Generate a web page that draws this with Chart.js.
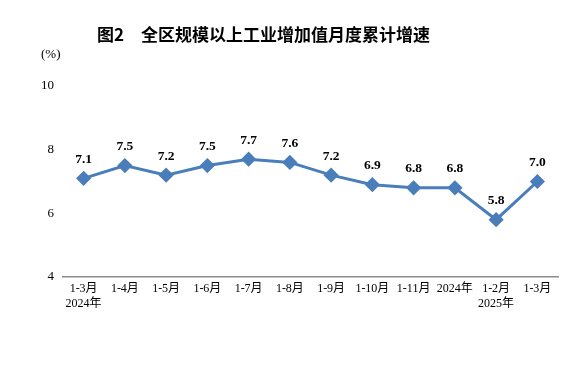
<!DOCTYPE html>
<html>
<head>
<meta charset="utf-8">
<script src="https://cdn.jsdelivr.net/npm/chart.js@4/dist/chart.umd.min.js"></script>
<style>
  html, body { margin: 0; padding: 0; background: #fff; }
  #wrap { width: 576px; height: 366px; }
</style>
</head>
<body>
<div id="wrap"><canvas id="growthChart" width="576" height="366"></canvas></div>
<script>
// Data
const months = [
  ["1-3月", "2024年"], "1-4月", "1-5月", "1-6月", "1-7月", "1-8月",
  "1-9月", "1-10月", "1-11月", "2024年", ["1-2月", "2025年"], "1-3月"
];
const growth = [7.1, 7.5, 7.2, 7.5, 7.7, 7.6, 7.2, 6.9, 6.8, 6.8, 5.8, 7.0];
const yTicks = [4, 6, 8, 10];

const title = "图2　全区规模以上工业增加值月度累计增速";
const unitLabel = "(%)";
const serif = "'Liberation Serif', 'Noto Sans CJK SC', serif";

// draws the title, the unit text and the value labels
const extras = {
  id: "extras",
  afterDatasetsDraw(chart) {
    const ctx = chart.ctx;
    ctx.save();
    ctx.fillStyle = "#000";
    ctx.textBaseline = "middle";

    ctx.font = "bold 17px 'Noto Sans CJK SC', sans-serif";
    ctx.textAlign = "left";
    ctx.fillText(title, 97, 35);

    ctx.font = "13px " + serif;
    ctx.fillText(unitLabel, 41, 55);

    ctx.font = "bold 13.5px " + serif;
    ctx.textAlign = "center";
    chart.getDatasetMeta(0).data.forEach((pt, i) => {
      ctx.fillText(growth[i].toFixed(1), pt.x, pt.y - 19);
    });
    ctx.restore();
  }
};

const ctx = document.getElementById("growthChart").getContext("2d");

new Chart(ctx, {
  type: "line",
  data: {
    labels: months,
    datasets: [
      {
        data: growth,
        borderColor: "#4a7ebb",
        backgroundColor: "#4a7ebb",
        borderWidth: 3,
        pointStyle: "rectRot",
        pointRadius: 5.5,
        pointHoverRadius: 5.5,
        tension: 0,
      },
    ],
  },
  options: {
    responsive: false,
    animation: false,
    layout: { padding: { top: 86, right: 18, left: 0, bottom: 0 } },
    plugins: {
      legend: { display: false },
      title: { display: false },
      tooltip: { enabled: false },
    },
    scales: {
      x: {
        offset: true,
        grid: { display: false, drawTicks: false },
        border: { display: true, color: "#8c8c8c", width: 1.5 },
        ticks: {
          color: "#000",
          font: { family: serif, size: 12 },
          padding: 5,
          maxRotation: 0,
          autoSkip: false,
        },
        afterFit(scale) { scale.height = 89; },
      },
      y: {
        min: 4,
        max: 10,
        grid: { display: false, drawTicks: false },
        border: { display: false },
        afterBuildTicks(scale) { scale.ticks = yTicks.map(v => ({ value: v })); },
        ticks: {
          color: "#000",
          font: { family: serif, size: 13 },
          padding: 9,
        },
        afterFit(scale) { scale.width = 63; },
      },
    },
  },
  plugins: [extras],
});
</script>
</body>
</html>
